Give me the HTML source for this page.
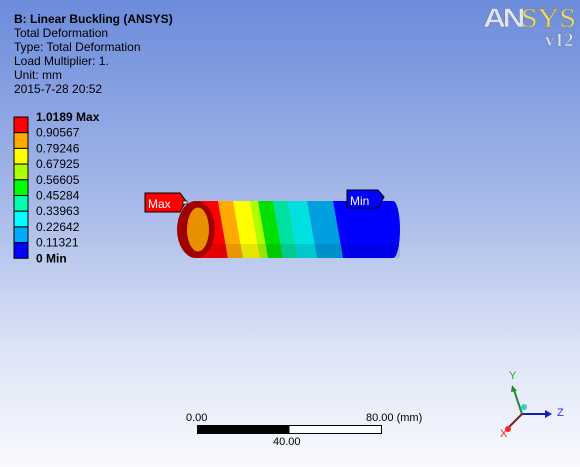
<!DOCTYPE html>
<html><head><meta charset="utf-8"><style>
body{margin:0;width:580px;height:467px;overflow:hidden;font-family:"Liberation Sans",sans-serif}
#bg{position:absolute;left:0;top:0;width:580px;height:467px;background:linear-gradient(#6b8bdb 0%,#a9bbe9 45%,#dde4f6 75%,#f9fafe 100%)}
.t{position:absolute;left:14px;font-size:12px;color:#000;line-height:14px;white-space:nowrap}
</style></head><body>
<div id="bg"></div>
<div class="t" style="top:12px;font-weight:bold">B: Linear Buckling (ANSYS)</div>
<div class="t" style="top:26px">Total Deformation</div>
<div class="t" style="top:40px">Type: Total Deformation</div>
<div class="t" style="top:54px">Load Multiplier: 1.</div>
<div class="t" style="top:68px">Unit: mm</div>
<div class="t" style="top:82px">2015-7-28 20:52</div>
<svg id="s" width="580" height="467" style="position:absolute;left:0;top:0">
<text x="483" y="27" font-family="Liberation Sans,sans-serif" font-size="27" font-weight="bold" fill="#dce4f6" stroke="#7080a8" stroke-width="0.6" letter-spacing="-3" textLength="39" lengthAdjust="spacingAndGlyphs">AN</text>
<text x="521" y="27" font-family="Liberation Serif,serif" font-size="27" fill="#e6da7e" stroke="#8a8040" stroke-width="0.4" textLength="55" lengthAdjust="spacingAndGlyphs">SYS</text>
<text x="545" y="46" font-family="Liberation Serif,serif" font-size="19" font-weight="bold" fill="#dce4f6" stroke="#7080a8" stroke-width="0.6">v12</text>
<g id="legend"></g>
<g id="cyl"></g>
<g>
<polygon points="145,193 180,193 186,201 180,212 145,212" fill="#ff0000" stroke="#000"/>
<text x="148" y="208" font-size="12" fill="#fff">Max</text>
<rect x="183" y="201" width="4" height="3" fill="#fff" stroke="#000" stroke-width="0.7"/>
</g>
<g>
<polygon points="347,190 378,190 384,197 378,208 347,208" fill="#0000ff" stroke="#000"/>
<text x="350" y="205" font-size="12" fill="#fff">Min</text>
</g>
<g>
<text x="186" y="421" font-size="11">0.00</text>
<text x="366" y="421" font-size="11">80.00 (mm)</text>
<rect x="197.5" y="425.5" width="184" height="8" fill="#fff" stroke="#000"/>
<rect x="197.5" y="425.5" width="92" height="8" fill="#000"/>
<text x="273" y="445" font-size="11">40.00</text>
</g>
<g>
<line x1="522" y1="414" x2="545" y2="414" stroke="#1020b0" stroke-width="2"/>
<polygon points="545,410 552,414 545,418" fill="#1020b0"/>
<text x="557" y="416" font-size="11" fill="#2030ff">Z</text>
<line x1="522" y1="414" x2="514" y2="390" stroke="#2a8a2a" stroke-width="2"/>
<polygon points="511,392 512,385 517,391" fill="#2a8a2a"/>
<text x="509" y="379" font-size="11" fill="#20b020">Y</text>
<line x1="522" y1="414" x2="508" y2="428" stroke="#702020" stroke-width="2"/>
<circle cx="508" cy="429" r="3" fill="#ff2020"/>
<text x="500" y="437" font-size="11" fill="#ff2020">X</text>
<circle cx="524" cy="407" r="3" fill="#30d0d0"/>
</g>
</svg>
<script>
const legendValues=["1.0189 Max","0.90567","0.79246","0.67925","0.56605","0.45284","0.33963","0.22642","0.11321","0 Min"];
const legendColors=["#ff0000","#ffaa00","#ffff00","#aaff00","#00ff00","#00ffaa","#00ffff","#00aaff","#0000ff"];
const bandTopX=[218,233,250,258,273,288,307,333,393];
const bandColors=["#ff0000","#ffaa00","#ffff00","#aaff00","#00e000","#00e0a0","#00e0e0","#00a0e0","#0000ff"];
const NS="http://www.w3.org/2000/svg";
const lg=document.getElementById('legend');
const top0=117,bh=15.7;
function ly(i){return top0+i*bh;}
legendColors.forEach((c,i)=>{const r=document.createElementNS(NS,'rect');
r.setAttribute('x',14);r.setAttribute('y',ly(i));r.setAttribute('width',14);r.setAttribute('height',bh);r.setAttribute('fill',c);r.setAttribute('stroke','#000');


lg.appendChild(r);});
legendValues.forEach((v,i)=>{const t=document.createElementNS(NS,'text');
t.setAttribute('x',36);t.setAttribute('y',ly(i)+4);t.setAttribute('font-size','12');
if(i==0||i==legendValues.length-1)t.setAttribute('font-weight','bold');
t.textContent=v;


lg.appendChild(t);});
const cg=document.getElementById('cyl');
const yT=201,yB=258,slant=10;
let prev=196;
bandTopX.forEach((x,i)=>{const p=document.createElementNS(NS,'path');
const last=i==bandTopX.length-1;
let d=`M${prev},${yT} L${x},${yT} `;
if(last)d+=`A7,28.5 0 0 1 ${x},${yB} `;
else d+=`L${x+slant},${yB} `;
d+=`L${i==0?196:prev+slant},${yB} Z`;
p.setAttribute('d',d);p.setAttribute('fill',bandColors[i]);


cg.appendChild(p);prev=x;});
const sh=document.createElementNS(NS,'rect');sh.setAttribute('x',190);sh.setAttribute('y',244);sh.setAttribute('width',210);sh.setAttribute('height',14);sh.setAttribute('fill','rgba(0,0,40,0.1)');


cg.appendChild(sh);
const e1=document.createElementNS(NS,'ellipse');e1.setAttribute('cx',196);e1.setAttribute('cy',229.5);e1.setAttribute('rx',19);e1.setAttribute('ry',28.5);e1.setAttribute('fill','#a00000');


cg.appendChild(e1);
const e2=document.createElementNS(NS,'ellipse');e2.setAttribute('cx',198);e2.setAttribute('cy',229.5);e2.setAttribute('rx',11);e2.setAttribute('ry',22);e2.setAttribute('fill','#e89000');


cg.appendChild(e2);
</script>
</body></html>
